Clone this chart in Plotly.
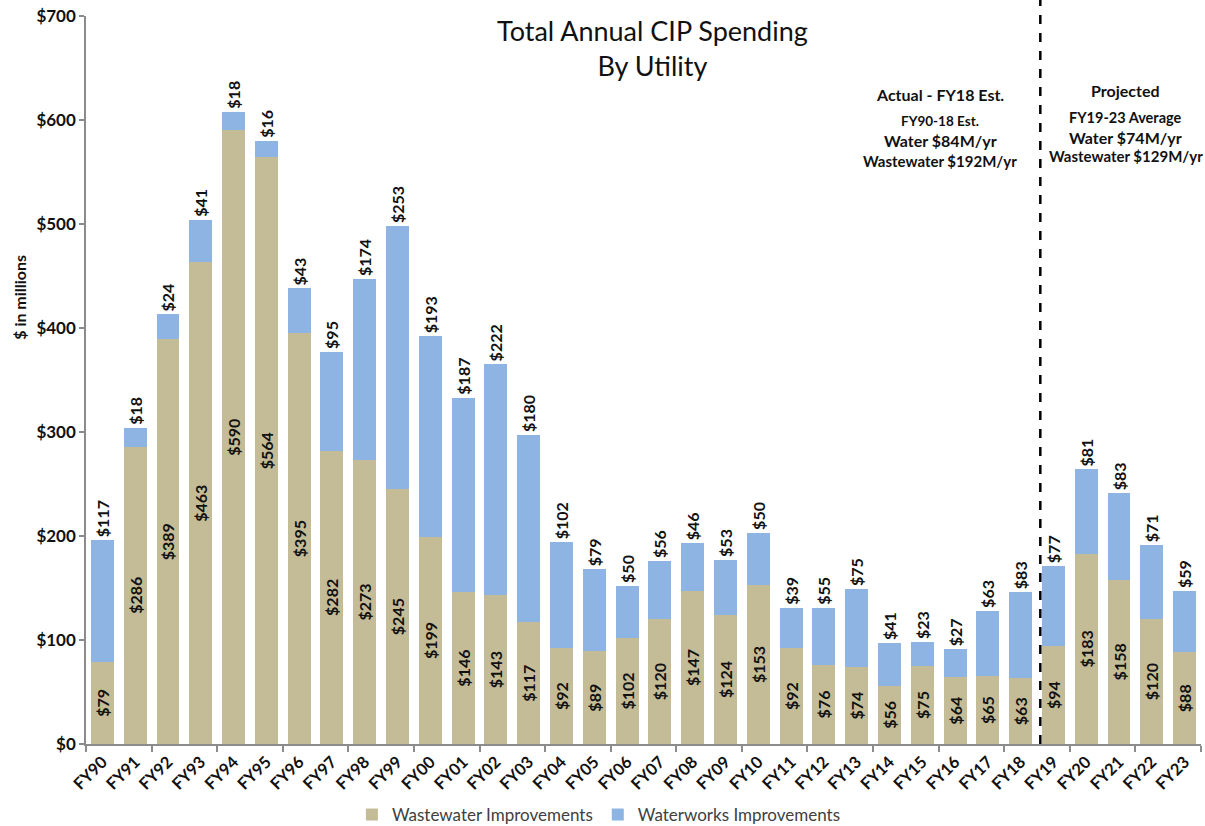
import plotly.graph_objects as go

categories = ["FY90", "FY91", "FY92", "FY93", "FY94", "FY95", "FY96", "FY97", "FY98", "FY99",
              "FY00", "FY01", "FY02", "FY03", "FY04", "FY05", "FY06", "FY07", "FY08", "FY09",
              "FY10", "FY11", "FY12", "FY13", "FY14", "FY15", "FY16", "FY17", "FY18", "FY19",
              "FY20", "FY21", "FY22", "FY23"]
wastewater = [79, 286, 389, 463, 590, 564, 395, 282, 273, 245,
              199, 146, 143, 117, 92, 89, 102, 120, 147, 124,
              153, 92, 76, 74, 56, 75, 64, 65, 63, 94,
              183, 158, 120, 88]
waterworks = [117, 18, 24, 41, 18, 16, 43, 95, 174, 253,
              193, 187, 222, 180, 102, 79, 50, 56, 46, 53,
              50, 39, 55, 75, 41, 23, 27, 63, 83, 77,
              81, 83, 71, 59]
y_ticks = [0, 100, 200, 300, 400, 500, 600, 700]

FONT = "Lato"
TAN = "#C4BC97"
BLUE = "#8DB4E2"

x = list(range(len(categories)))

fig = go.Figure()
fig.add_trace(go.Bar(
    x=x, y=wastewater, name="Wastewater Improvements",
    marker=dict(color=TAN, line=dict(width=0)),
    text=[f"${v}" for v in wastewater], textposition="inside",
    insidetextanchor="middle", textangle=-90, constraintext="none",
    textfont=dict(family=FONT, size=16, color="#111111", weight="bold"),
    hoverinfo="skip",
))
fig.add_trace(go.Bar(
    x=x, y=waterworks, name="Waterworks Improvements",
    marker=dict(color=BLUE, line=dict(width=0)),
    text=[f"${v}" for v in waterworks], textposition="outside",
    textangle=-90, constraintext="none", cliponaxis=False,
    textfont=dict(family=FONT, size=16, color="#111111", weight="bold"),
    hoverinfo="skip",
))

fig.update_layout(
    width=1205, height=826,
    margin=dict(l=86, r=4, t=16, b=82, autoexpand=False),
    barmode="stack", bargap=0.3,
    plot_bgcolor="white", paper_bgcolor="white",
    font=dict(family=FONT, color="#111111"),
    showlegend=True,
    legend=dict(orientation="h", x=0.46, xanchor="center", y=-0.0975, yanchor="middle",
                font=dict(family=FONT, size=17, color="#404040"),
                traceorder="normal", itemwidth=30),
    xaxis=dict(
        range=[-0.5, len(categories) - 0.5], automargin=False,
        tickmode="array", tickvals=x, ticktext=categories,
        tickangle=-45, ticks="", showgrid=False,
        tickfont=dict(family=FONT, size=16.5, color="#111111", weight="bold"),
        showline=True, linecolor="#8c8c8c", linewidth=1.5,
        minor=dict(tickmode="array",
                   tickvals=[i - 0.5 for i in range(0, len(categories) + 1, 2)],
                   ticks="outside", ticklen=6, tickcolor="#8c8c8c", tickwidth=1.5,
                   showgrid=False),
        zeroline=False,
    ),
    yaxis=dict(
        range=[0, 700], automargin=False, tickmode="array", tickvals=y_ticks,
        ticktext=[f"${v}" for v in y_ticks],
        ticks="outside", ticklen=5, tickcolor="#8c8c8c", tickwidth=1.5,
        showline=True, linecolor="#8c8c8c", linewidth=1.5,
        showgrid=False, zeroline=False,
        tickfont=dict(family=FONT, size=17, color="#111111", weight="bold"),
    ),
)

# divider between actual and projected
fig.add_shape(type="line", xref="x", yref="paper", x0=28.6, x1=28.6, y0=0, y1=1.025,
              line=dict(color="black", width=2.5, dash="dash"))

ann = []
ann.append(dict(text="Total Annual CIP Spending<br>By Utility", x=0.508, y=1.005, xref="paper", yref="paper",
                showarrow=False, xanchor="center", yanchor="top",
                font=dict(family=FONT, size=27, color="#111111")))
ann.append(dict(text="$ in millions", x=-0.0592, y=430, xref="paper", yref="y", textangle=-90,
                xanchor="center", yanchor="middle",
                showarrow=False, font=dict(family=FONT, size=16, color="#111111", weight="bold")))

left_notes = [("Actual - FY18 Est.", 16, 625), ("FY90-18 Est.", 13.5, 599),
              ("Water $84M/yr", 16, 580), ("Wastewater $192M/yr", 15, 561)]
for t, s, yv in left_notes:
    ann.append(dict(text=t, x=25.55, y=yv, xref="x", yref="y", showarrow=False,
                    xanchor="center",
                    font=dict(family=FONT, size=s, color="#111111", weight="bold")))
right_notes = [("Projected", 16, 628), ("FY19-23 Average", 14.5, 602),
               ("Water $74M/yr", 16, 583), ("Wastewater $129M/yr", 15, 565)]
for t, s, yv in right_notes:
    ann.append(dict(text=t, x=31.2, y=yv, xref="x", yref="y", showarrow=False,
                    xanchor="center",
                    font=dict(family=FONT, size=s, color="#111111", weight="bold")))
fig.update_layout(annotations=ann)

fig.write_html("out.html", config={"displayModeBar": False},
               post_script="document.body.style.margin='0';document.body.style.overflow='hidden';")
